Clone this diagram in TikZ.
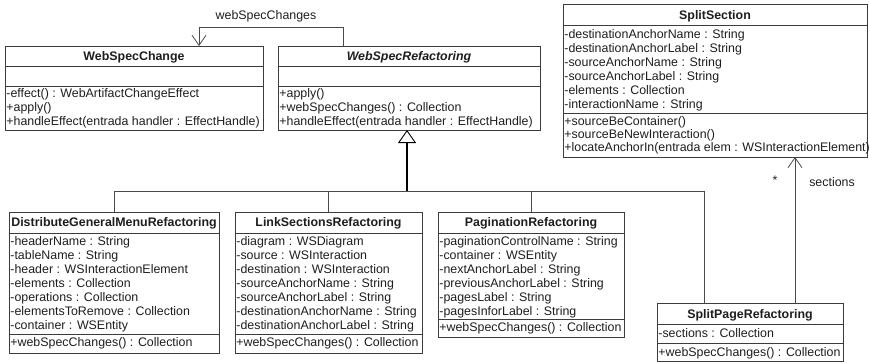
\documentclass[tikz,border=0pt]{standalone}
\usepackage{fontspec}
\setmainfont{Liberation Sans}
\usetikzlibrary{arrows.meta}

\definecolor{ink}{HTML}{1E1E1E}
\definecolor{edge}{HTML}{3C3C3C}
\definecolor{wire}{HTML}{4A4A4A}

\newcommand{\umlfont}{\fontsize{12.4}{14}\selectfont}

% class frame: name, left, top, right, bottom, first divider, second divider
\newcommand{\umlclass}[7]{%
  \node[classbox, minimum width={(#4-#2)*1pt}, minimum height={(#5-#3)*1pt}] (#1) at (#2,#3) {};
  \draw[divider] (#2,#6) -- (#4,#6);
  \draw[divider] (#2,#7) -- (#4,#7);
}
% member lines: node prefix, left, first baseline, pitch, list
\newcommand{\members}[5]{%
  \foreach \m [count=\i from 0] in {#5} {
    \node[member] (#1\i) at ({#2+1.2},{#3+\i*#4}) {\m};
  }
}

\begin{document}
\begin{tikzpicture}[x=1pt,y=-1pt,
  font=\umlfont,
  classbox/.style={draw=edge, line width=0.9pt, fill=white, inner sep=0pt, outer sep=0pt, anchor=north west},
  divider/.style={draw=edge, line width=0.9pt},
  member/.style={anchor=base west, inner sep=0pt, text=ink},
  classname/.style={anchor=base, inner sep=0pt, text=ink, font=\umlfont\bfseries},
  lbl/.style={anchor=base, inner sep=0pt, text=ink},
  link/.style={draw=wire, line width=0.8pt},
  trunk/.style={draw=black, line width=1.8pt},
  navarrow/.style={-{Straight Barb[length=10pt,width=14pt,line width=0.8pt]}},
  genarrow/.style={-{Triangle[open,length=13pt,width=18pt,line width=0.9pt]}}
]
\useasboundingbox (0,0) rectangle (869,362);

% ---- WebSpecChange
\umlclass{wsc}{5}{46}{263}{130}{66}{86}
\node[classname] (wsc-t) at (134,60) {WebSpecChange};
\members{wsc-o}{5}{97.5}{14}{-effect() : WebArtifactChangeEffect,+apply(),+handleEffect(entrada handler : EffectHandle)}

% ---- WebSpecRefactoring
\umlclass{wsr}{278}{46}{540}{130}{66}{86}
\node[classname, font=\umlfont\bfseries\itshape] (wsr-t) at (409,60) {WebSpecRefactoring};
\members{wsr-o}{278}{97.5}{14}{+apply(),+webSpecChanges() : Collection,+handleEffect(entrada handler : EffectHandle)}

% ---- SplitSection
\umlclass{ss}{563}{4}{867}{157}{25}{113}
\node[classname] (ss-t) at (715,19) {SplitSection};
\members{ss-a}{563}{38.5}{14}{-destinationAnchorName : String,-destinationAnchorLabel : String,-sourceAnchorName : String,-sourceAnchorLabel : String,-elements : Collection,-interactionName : String}
\members{ss-o}{563}{125.5}{13}{+sourceBeContainer(),+sourceBeNewInteraction(),+locateAnchorIn(entrada elem : WSInteractionElement)}

% ---- DistributeGeneralMenuRefactoring
\umlclass{dgmr}{9}{212}{219}{353}{233}{334}
\node[classname] (dgmr-t) at (114,226.5) {DistributeGeneralMenuRefactoring};
\members{dgmr-a}{9}{245.5}{14}{-headerName : String,-tableName : String,-header : WSInteractionElement,-elements : Collection,-operations : Collection,-elementsToRemove : Collection,-container : WSEntity}
\members{dgmr-o}{9}{346.5}{14}{+webSpecChanges() : Collection}

% ---- LinkSectionsRefactoring
\umlclass{lsr}{235}{212}{422}{353}{233}{334}
\node[classname] (lsr-t) at (328.5,226.5) {LinkSectionsRefactoring};
\members{lsr-a}{235}{245.5}{14}{-diagram : WSDiagram,-source : WSInteraction,-destination : WSInteraction,-sourceAnchorName : String,-sourceAnchorLabel : String,-destinationAnchorName : String,-destinationAnchorLabel : String}
\members{lsr-o}{235}{346.5}{14}{+webSpecChanges() : Collection}

% ---- PaginationRefactoring
\umlclass{pr}{438}{212}{624}{337}{233}{319}
\node[classname] (pr-t) at (531,226.5) {PaginationRefactoring};
\members{pr-a}{438}{245.5}{14}{-paginationControlName : String,-container : WSEntity,-nextAnchorLabel : String,-previousAnchorLabel : String,-pagesLabel : String,-pagesInforLabel : String}
\members{pr-o}{438}{331}{14}{+webSpecChanges() : Collection}

% ---- SplitPageRefactoring
\umlclass{spr}{657}{303}{843}{361}{324}{343}
\node[classname] (spr-t) at (750,318) {SplitPageRefactoring};
\members{spr-a}{657}{337.5}{14}{-sections : Collection}
\members{spr-o}{657}{356}{14}{+webSpecChanges() : Collection}

% ---- self association webSpecChanges
\draw[link, navarrow] ([xshift=65pt]wsr.north west) -- ++(0,-19) -| ([xshift=194pt]wsc.north west);
\node[lbl] (wsc-role) at (266,19.5) {webSpecChanges};

% ---- generalization tree
\coordinate (bus) at (407,191);
\coordinate (sprin) at ([xshift=47pt]spr.north west);
\draw[trunk, genarrow] (bus) -- (bus |- wsr.south);
\draw[link] (dgmr.north) |- (sprin |- bus) -- (sprin);
\draw[link] (lsr.north) -- (lsr.north |- bus);
\draw[link] (pr.north) -- (pr.north |- bus);

% ---- association sections
\coordinate (sprout) at ([xshift=138pt]spr.north west);
\draw[link, navarrow] (sprout) -- (sprout |- ss.south);
\node[lbl] (mult) at (775,184) {*};
\node[lbl] (role) at (832,186) {sections};
\end{tikzpicture}
\end{document}
